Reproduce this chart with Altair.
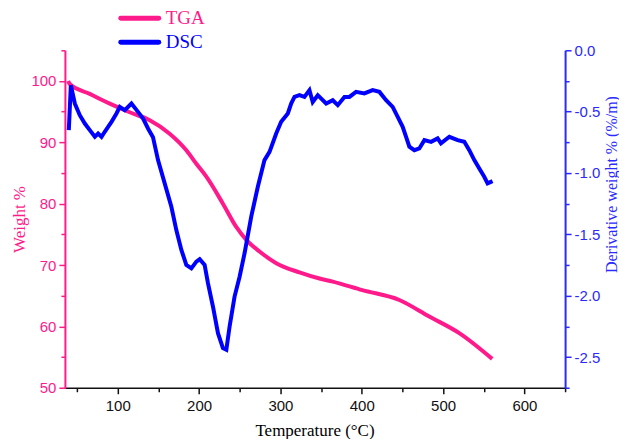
import altair as alt
import pandas as pd

# ---- data ----
tga_temp = [39, 41, 65.6, 90.2, 114.7, 139.3, 163.8, 184.3, 196.6, 208.9, 229.3, 245.7,
            258, 274.3, 294.8, 323.4, 348, 364.3, 400.8, 446.2, 483, 519.9, 560.4]
tga_weight = [100, 99.5, 97.9, 96.3, 94.9, 93.6, 91.4, 88.7, 86.5, 84.4, 80.0, 76.2,
              74.1, 72.2, 70.3, 68.8, 67.8, 67.3, 65.9, 64.3, 61.6, 58.9, 54.7]

dsc_temp = [39.8, 42.3, 47.2, 53.3, 59.5, 65.6, 71.8, 75.8, 80.0, 84.0, 88.1, 92.3, 98.4,
            102.5, 108.6, 116.8, 124.9, 131.1, 137.2, 143.3, 149.5, 157.7, 165.9, 172.0,
            178.2, 184.3, 190.5, 196.6, 200.7, 206.8, 210.9, 217.0, 223.2, 229.3, 233.5,
            237.5, 243.6, 249.8, 255.9, 264.1, 272.2, 280.4, 286.6, 294.8, 300.9, 309.1,
            313.2, 317.3, 323.4, 329.5, 335.7, 339.7, 345.9, 356.2, 364.3, 370.5, 378.7,
            384.8, 393.0, 403.2, 413.4, 421.7, 429.9, 438.0, 444.2, 450.3, 454.5, 458.5,
            464.7, 470.8, 477.0, 485.2, 493.3, 497.4, 507.7, 517.9, 526.1, 532.2, 538.4,
            544.5, 550.6, 554.7, 560.8]
dsc_value = [-0.651, -0.285, -0.434, -0.529, -0.597, -0.651, -0.705, -0.678, -0.705, -0.664,
             -0.624, -0.583, -0.515, -0.461, -0.488, -0.434, -0.502, -0.556, -0.637, -0.708,
             -0.895, -1.085, -1.275, -1.465, -1.627, -1.749, -1.777, -1.722, -1.703, -1.749,
             -1.898, -2.088, -2.305, -2.427, -2.441, -2.251, -2.007, -1.845, -1.654, -1.356,
             -1.112, -0.895, -0.828, -0.678, -0.583, -0.515, -0.434, -0.380, -0.366, -0.380,
             -0.325, -0.421, -0.366, -0.434, -0.407, -0.447, -0.380, -0.380, -0.339, -0.352,
             -0.325, -0.339, -0.407, -0.461, -0.542, -0.624, -0.705, -0.786, -0.814, -0.800,
             -0.732, -0.746, -0.718, -0.759, -0.705, -0.732, -0.746, -0.814, -0.895, -0.963,
             -1.031, -1.085, -1.066]

legend_labels = ["TGA", "DSC"]

x_ticks = [50 * i for i in range(1, 14)]          # 50..650
left_ticks = [50 + 5 * i for i in range(12)]      # 50..105
right_ticks = [-0.25 * i for i in range(12)]      # 0..-2.75

PINK = "#ff1a8c"
BLUE = "#0000ff"
BLUE_AX = "#2a2aff"
SERIF = "Liberation Serif"
SANS = "Liberation Sans"

tga_df = pd.DataFrame({"T": tga_temp, "W": tga_weight})
dsc_df = pd.DataFrame({"T": dsc_temp, "D": dsc_value})

x_enc = alt.X(
    "T:Q",
    scale=alt.Scale(domain=[35, 650], nice=False, zero=False),
    axis=alt.Axis(
        values=x_ticks,
        title="Temperature (\u00b0C)",
        titleFont=SERIF, titleFontSize=17, titleFontWeight="normal", titleColor="black",
        titleX=250, titleY=43, titleAlign="center", titleBaseline="middle",
        labelFont=SANS, labelFontSize=15, labelColor="#111111",
        labelExpr="datum.value % 100 == 0 ? datum.label : ''",
        labelPadding=5, labelFlush=False,
        tickSize={"condition": {"test": "datum.value % 100 == 0", "value": 6}, "value": 4},
        tickColor="#111111", tickWidth=1.5,
        domainColor="#111111", domainWidth=1.5, grid=False,
    ),
)

tga = alt.Chart(tga_df).mark_line(color=PINK, strokeWidth=4, interpolate="monotone").encode(
    x=x_enc,
    y=alt.Y(
        "W:Q",
        scale=alt.Scale(domain=[50, 105], nice=False, zero=False),
        axis=alt.Axis(
            values=left_ticks, orient="left",
            title="Weight %",
            titleFont=SERIF, titleFontSize=17, titleFontWeight="normal", titleColor=PINK,
            titleAngle=270, titleX=-45, titleY=169, titleAlign="center", titleBaseline="middle",
            labelFont=SANS, labelFontSize=15, labelColor=PINK,
            labelExpr="datum.value % 10 == 0 ? datum.label : ''",
            labelPadding=3, labelFlush=False,
            tickSize={"condition": {"test": "datum.value % 10 == 0", "value": 6}, "value": 4},
            tickColor=PINK, tickWidth=1.5,
            domainColor=PINK, domainWidth=2, grid=False,
        ),
    ),
)

dsc = alt.Chart(dsc_df).mark_line(color=BLUE, strokeWidth=4).encode(
    x=alt.X("T:Q"),
    y=alt.Y(
        "D:Q",
        scale=alt.Scale(domain=[-2.75, 0], nice=False, zero=False),
        axis=alt.Axis(
            values=right_ticks, orient="right",
            title="Derivative weight % (%/m)",
            titleFont=SERIF, titleFontSize=16, titleFontWeight="normal", titleColor=BLUE_AX,
            titleAngle=270, titleX=46, titleY=134, titleAlign="center", titleBaseline="middle",
            labelFont=SANS, labelFontSize=15, labelColor=BLUE_AX,
            labelExpr="(abs(datum.value * 4) % 2 == 0) ? ((datum.value < 0 ? '-' : '') + format(abs(datum.value), '.1f')) : ''",
            labelPadding=3, labelFlush=False,
            tickSize={"condition": {"test": "abs(datum.value * 4) % 2 == 0", "value": 6}, "value": 4},
            tickColor=BLUE_AX, tickWidth=1.5,
            domainColor=BLUE_AX, domainWidth=2, grid=False,
        ),
    ),
)

# manual legend above the plot
leg_df = pd.DataFrame({"label": legend_labels, "row": [0, 1]})
leg_color = alt.Color("label:N", scale=alt.Scale(domain=legend_labels, range=[PINK, BLUE]), legend=None)
leg_y = alt.Y("row:Q", scale=alt.Scale(domain=[0, 1], range=[-32, -8], nice=False, zero=False), axis=None)
leg_rule = alt.Chart(leg_df).mark_rule(strokeWidth=5, strokeCap="round").encode(
    x=alt.value(56), x2=alt.value(94),
    y=leg_y,
    color=leg_color,
)
leg_text = alt.Chart(leg_df).mark_text(
    align="left", baseline="middle", font=SERIF, fontSize=19
).encode(
    x=alt.value(101),
    y=leg_y,
    text="label:N",
    color=leg_color,
)
legend = alt.layer(leg_rule, leg_text)

chart = alt.layer(tga, dsc, legend).resolve_scale(y="independent", color="independent").properties(
    width=501, height=338,
    autosize=alt.AutoSizeParams(type="none"),
    padding={"left": 57, "top": 42, "right": 54, "bottom": 51},
    background="white",
).configure_view(stroke=None)

chart.save("out.html", embed_options={"renderer": "svg", "actions": False})
